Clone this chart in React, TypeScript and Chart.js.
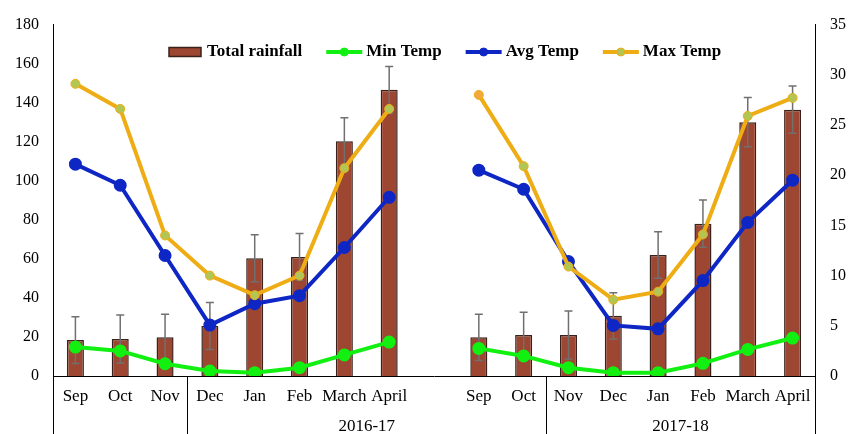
import React, { useEffect, useRef } from "react";
import { Chart, registerables } from "chart.js";

Chart.register(...registerables);

const categories = ["Sep", "Oct", "Nov", "Dec", "Jan", "Feb", "March", "April", "", "Sep", "Oct", "Nov", "Dec", "Jan", "Feb", "March", "April"];
const groups = [
  { label: "", from: 0, to: 2 },
  { label: "2016-17", from: 3, to: 10 },
  { label: "2017-18", from: 11, to: 16 },
];
const totalRainfall = [18.4, 18.9, 19.8, 25.6, 60.3, 61, 120.3, 146.6, null, 19.8, 21, 21, 30.8, 62, 78, 130, 136.4];
const rainfallError = [12, 12.3, 11.8, 12, 12, 12, 12, 12, null, 11.8, 11.7, 12.3, 11.9, 11.9, 12.1, 12.6, 12.1];
const minTemp = [2.88, 2.5, 1.22, 0.5, 0.33, 0.83, 2.1, 3.38, null, 2.75, 2.0, 0.83, 0.33, 0.33, 1.26, 2.65, 3.78];
const avgTemp = [21.1, 19.0, 12.0, 5.07, 7.2, 8.0, 12.8, 17.8, null, 20.5, 18.6, 11.4, 5.04, 4.7, 9.5, 15.3, 19.5];
const maxTemp = [29.1, 26.6, 14.0, 10.0, 8.05, 10.0, 20.7, 26.6, null, 28.0, 20.9, 10.9, 7.6, 8.4, 14.1, 25.9, 27.7];
const rainTicks = { min: 0, max: 180, step: 20 };
const tempTicks = { min: 0, max: 35, step: 5 };

const FONT = '"Liberation Serif", "Times New Roman", serif';
const BAR = "#9D4631";
const BAR_BORDER = "#3A221C";
const GREEN = "#12F012";
const BLUE = "#0E26C4";
const ORANGE = "#EEAD14";
const MAXFILL = "#B3C654";

const customPlugin = {
  id: "custom",
  afterDatasetDraw(chart: any, args: any) {
    if (args.index !== 0) return;
    const ctx = chart.ctx;
    const y = chart.scales.y;
    const meta = chart.getDatasetMeta(0);
    ctx.save();
    ctx.strokeStyle = "#707070";
    ctx.lineWidth = 1.5;
    meta.data.forEach((el: any, i: number) => {
      const v = totalRainfall[i];
      const e = rainfallError[i];
      if (v == null || e == null) return;
      const x = el.x;
      const yt = y.getPixelForValue(v + e);
      const yb = y.getPixelForValue(v - e);
      ctx.beginPath();
      ctx.moveTo(x, yt);
      ctx.lineTo(x, yb);
      ctx.moveTo(x - 4, yt);
      ctx.lineTo(x + 4, yt);
      ctx.moveTo(x - 4, yb);
      ctx.lineTo(x + 4, yb);
      ctx.stroke();
    });
    ctx.restore();
  },
  afterDraw(chart: any) {
    const ctx = chart.ctx;
    const xs = chart.scales.x;
    const area = chart.chartArea;
    const H = chart.height;
    ctx.save();
    ctx.fillStyle = "#000";
    ctx.font = `17px ${FONT}`;
    ctx.textAlign = "center";
    ctx.textBaseline = "middle";
    categories.forEach((c, i) => {
      if (!c) return;
      ctx.fillText(c, xs.getPixelForValue(i), area.bottom + 21);
    });
    ctx.strokeStyle = "#000";
    ctx.lineWidth = 1;
    const bounds: number[] = [];
    groups.forEach((g, gi) => {
      const left = gi === 0 ? area.left : (xs.getPixelForValue(g.from - 1) + xs.getPixelForValue(g.from)) / 2;
      const right = gi === groups.length - 1 ? area.right : (xs.getPixelForValue(g.to) + xs.getPixelForValue(g.to + 1)) / 2;
      bounds.push(left, right);
      if (g.label) ctx.fillText(g.label, (left + right) / 2, area.bottom + 51);
    });
    const uniq = Array.from(new Set(bounds.map((b) => Math.round(b) + 0.5)));
    ctx.beginPath();
    uniq.forEach((bx) => {
      ctx.moveTo(bx, area.bottom);
      ctx.lineTo(bx, H);
    });
    ctx.stroke();

    const items = [
      { text: "Total rainfall", type: "bar", color: BAR },
      { text: "Min Temp", type: "line", color: GREEN, fill: GREEN },
      { text: "Avg Temp", type: "line", color: BLUE, fill: BLUE },
      { text: "Max Temp", type: "line", color: ORANGE, fill: MAXFILL },
    ];
    ctx.font = `bold 17px ${FONT}`;
    ctx.textAlign = "left";
    let lx = 169;
    const ly = 52;
    items.forEach((it: any) => {
      if (it.type === "bar") {
        ctx.fillStyle = BAR;
        ctx.fillRect(lx, ly - 4.5, 32, 9);
        ctx.strokeStyle = BAR_BORDER;
        ctx.lineWidth = 1.5;
        ctx.strokeRect(lx, ly - 4.5, 32, 9);
        lx += 38;
      } else {
        ctx.strokeStyle = it.color;
        ctx.lineWidth = 4;
        ctx.beginPath();
        ctx.moveTo(lx, ly);
        ctx.lineTo(lx + 36, ly);
        ctx.stroke();
        ctx.beginPath();
        ctx.arc(lx + 18, ly, 4, 0, Math.PI * 2);
        ctx.fillStyle = it.fill;
        ctx.fill();
        ctx.lineWidth = 1;
        ctx.stroke();
        lx += 40;
      }
      ctx.fillStyle = "#000";
      ctx.fillText(it.text, lx, ly);
      lx += ctx.measureText(it.text).width + 24;
    });
    ctx.restore();
  },
};

export default function App() {
  const ref = useRef<HTMLCanvasElement>(null);
  useEffect(() => {
    if (!ref.current) return;
    const chart = new Chart(ref.current, {
      type: "bar",
      data: {
        labels: categories,
        datasets: [
          {
            type: "bar",
            label: "Total rainfall",
            data: totalRainfall,
            backgroundColor: BAR,
            borderColor: BAR_BORDER,
            borderWidth: 1.5,
            barPercentage: 0.38,
            categoryPercentage: 1,
            yAxisID: "y",
            order: 4,
          },
          {
            type: "line",
            label: "Min Temp",
            data: minTemp,
            borderColor: GREEN,
            backgroundColor: GREEN,
            pointBackgroundColor: GREEN,
            pointBorderColor: GREEN,
            borderWidth: 4,
            pointRadius: 4.5,
            yAxisID: "y1",
            order: 3,
          },
          {
            type: "line",
            label: "Avg Temp",
            data: avgTemp,
            borderColor: BLUE,
            backgroundColor: BLUE,
            pointBackgroundColor: BLUE,
            pointBorderColor: BLUE,
            borderWidth: 4,
            pointRadius: 4.5,
            yAxisID: "y1",
            order: 2,
          },
          {
            type: "line",
            label: "Max Temp",
            data: maxTemp,
            borderColor: ORANGE,
            backgroundColor: ORANGE,
            pointBackgroundColor: (c: any) => (c.dataIndex === 9 ? "#F2A93B" : MAXFILL),
            pointBorderColor: ORANGE,
            pointBorderWidth: 1,
            borderWidth: 4,
            pointRadius: 4.5,
            yAxisID: "y1",
            order: 1,
          },
        ] as any,
      },
      options: {
        animation: false,
        responsive: false,
        devicePixelRatio: 1,
        layout: { padding: { top: 24, left: 0, right: 0, bottom: 0 } },
        plugins: { legend: { display: false }, tooltip: { enabled: false } },
        scales: {
          x: {
            grid: { display: false, drawTicks: false, tickLength: 0 },
            border: { display: true, color: "#000", width: 1 },
            ticks: { display: false },
            afterFit: (s: any) => {
              s.height = 58;
            },
          },
          y: {
            position: "left",
            min: rainTicks.min,
            max: rainTicks.max,
            grid: { display: false, drawTicks: false, tickLength: 0 },
            border: { display: true, color: "#000", width: 1 },
            ticks: { stepSize: rainTicks.step, color: "#000", padding: 14, font: { family: FONT, size: 16 } },
            afterFit: (s: any) => {
              s.width = 53;
            },
          },
          y1: {
            position: "right",
            min: tempTicks.min,
            max: tempTicks.max,
            grid: { display: false, drawTicks: false, tickLength: 0 },
            border: { display: true, color: "#000", width: 1 },
            ticks: { stepSize: tempTicks.step, color: "#000", padding: 15, font: { family: FONT, size: 16 } },
            afterFit: (s: any) => {
              s.width = 33;
            },
          },
        },
      },
      plugins: [customPlugin],
    });
    return () => chart.destroy();
  }, []);
  return (
    <div style={{ position: "fixed", left: 0, top: 0, width: 848, height: 434, background: "#fff" }}>
      <canvas ref={ref} width={848} height={434} style={{ display: "block" }} />
    </div>
  );
}
